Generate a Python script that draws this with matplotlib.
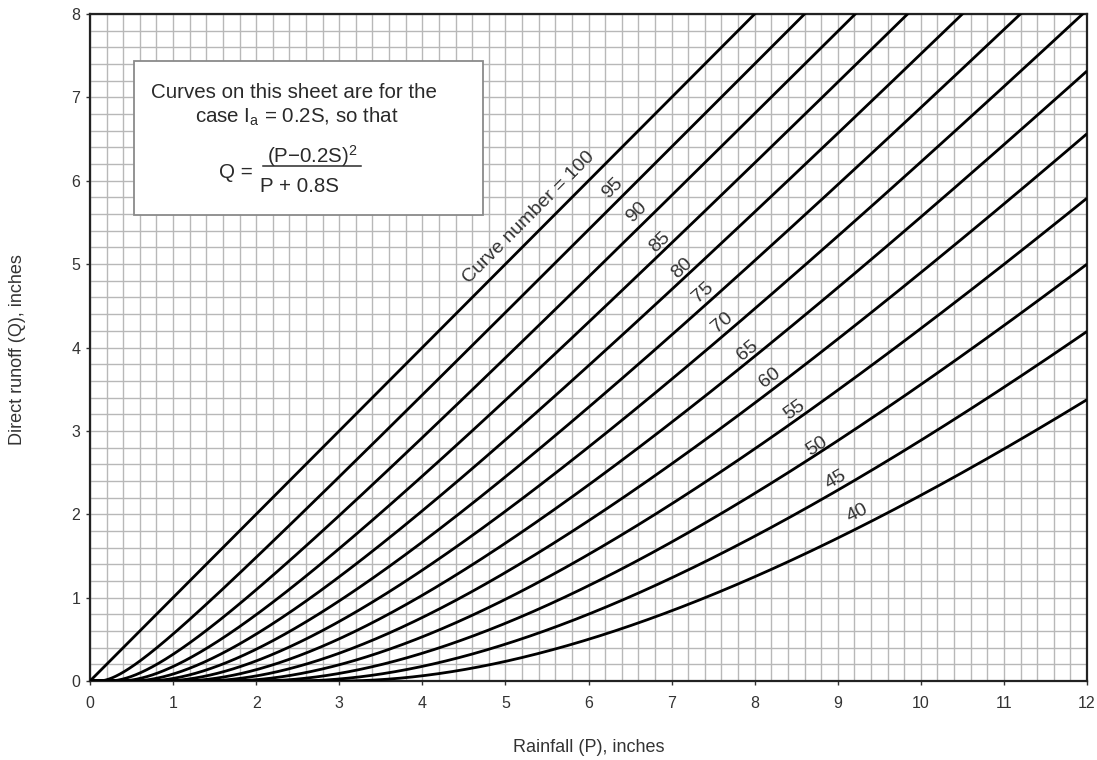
import numpy as np
import matplotlib
matplotlib.use("Agg")
import matplotlib.pyplot as plt
from matplotlib.patches import Rectangle
from matplotlib.ticker import MultipleLocator

plt.rcParams['font.family'] = ['Liberation Sans', 'DejaVu Sans']
plt.rcParams['mathtext.default'] = 'regular'

# ---- data ----
curve_numbers = [100, 95, 90, 85, 80, 75, 70, 65, 60, 55, 50, 45, 40]
curve_labels = ["Curve number = 100", "95", "90", "85", "80", "75", "70",
                "65", "60", "55", "50", "45", "40"]
x_ticks = [0, 1, 2, 3, 4, 5, 6, 7, 8, 9, 10, 11, 12]
y_ticks = [0, 1, 2, 3, 4, 5, 6, 7, 8]
ia_ratio = 0.2  # Ia = 0.2 S, as stated on the sheet

# label anchor positions (layout), in data units
label_pos = [(5.28, 5.56), (6.29, 5.91), (6.58, 5.62), (6.86, 5.26), (7.12, 4.95),
             (7.38, 4.66), (7.61, 4.30), (7.91, 3.96), (8.18, 3.64), (8.48, 3.25),
             (8.75, 2.81), (8.97, 2.41), (9.24, 2.02)]


def runoff(P, cn):
    S = 1000.0 / cn - 10.0
    Ia = ia_ratio * S
    P = np.asarray(P, dtype=float)
    return np.where(P > Ia, (P - Ia) ** 2 / (P + (1 - ia_ratio) * S), 0.0)


W, H = 1097, 760
fig = plt.figure(figsize=(W / 100, H / 100), dpi=100)
L, R, T, B = 90, 1087, 14, 681
ax = fig.add_axes([L / W, 1 - B / H, (R - L) / W, (B - T) / H])
ax.set_xlim(0, 12)
ax.set_ylim(0, 8)

ax.xaxis.set_minor_locator(MultipleLocator(0.2))
ax.yaxis.set_minor_locator(MultipleLocator(0.2))
ax.set_xticks(x_ticks)
ax.set_yticks(y_ticks)
ax.grid(which='both', color='#b8b8b8', linewidth=1.0, zorder=0)
ax.set_axisbelow(True)
ax.tick_params(which='major', direction='out', length=3, width=1, labelsize=11.5,
               colors='#333333', labelcolor='#333333')
ax.tick_params(axis='x', pad=8)
ax.tick_params(axis='y', pad=4)
ax.tick_params(which='minor', length=0)
for s in ax.spines.values():
    s.set_linewidth(1.6)
    s.set_color('#222222')

P = np.linspace(0, 12, 1201)
for cn in curve_numbers:
    ax.plot(P, runoff(P, cn), color='black', lw=2.0, zorder=3, solid_capstyle='butt')

# screen aspect for label rotation
sx = (R - L) / 12.0
sy = (B - T) / 8.0
for cn, lab, (lx, ly) in zip(curve_numbers, curve_labels, label_pos):
    h = 0.01
    slope = (runoff(lx + h, cn) - runoff(lx - h, cn)) / (2 * h)
    ang = np.degrees(np.arctan(float(slope) * sy / sx))
    ax.text(lx, ly, lab, rotation=ang, rotation_mode='anchor', ha='center', va='center',
            fontsize=14, color='#333333', zorder=4)


def dx(px):
    return (px - L) / sx


def dy(py):
    return (B - py) / sy


# annotation box
ax.add_patch(Rectangle((dx(134), dy(215)), dx(483) - dx(134), dy(61) - dy(215),
                       facecolor='white', edgecolor='#8a8a8a', lw=1.3, zorder=5))
tc = '#2a2a2a'
fs = 14.8
ax.text(dx(294), dy(93), "Curves on this sheet are for the", ha='center', va='center',
        fontsize=fs, color=tc, zorder=6)
ax.text(dx(297), dy(117), "case I$_{a}$ = 0.2S, so that", ha='center', va='center',
        fontsize=fs, color=tc, zorder=6)
ax.text(dx(312), dy(156), "(P\u22120.2S)$^{2}$", ha='center', va='center', fontsize=fs,
        color=tc, zorder=6)
ax.plot([dx(263), dx(361)], [dy(166), dy(166)], color=tc, lw=1.1, zorder=6)
ax.text(dx(300), dy(187), "P + 0.8S", ha='center', va='center', fontsize=fs, color=tc,
        zorder=6)
ax.text(dx(236), dy(172), "Q =", ha='center', va='center', fontsize=fs, color=tc, zorder=6)

fig.text((L + R) / 2 / W, 1 - 748 / H, "Rainfall (P), inches", ha='center', va='center',
         fontsize=13, color='#333333')
fig.text(18 / W, 1 - 350 / H, "Direct runoff (Q), inches", ha='center', va='center',
         rotation=90, fontsize=13, color='#333333')

fig.savefig("out.png", dpi=100)
